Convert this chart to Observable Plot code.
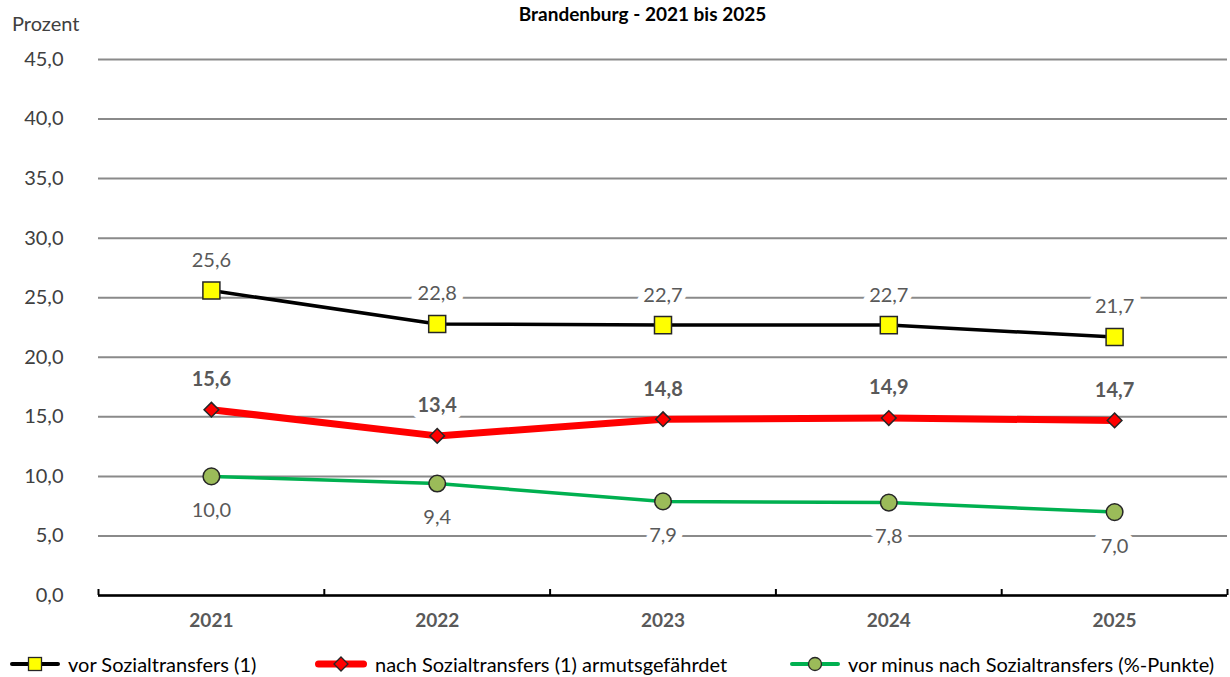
<!DOCTYPE html>
<html>
<head>
<meta charset="utf-8">
<script src="https://cdn.jsdelivr.net/npm/d3@7"></script>
<script src="https://cdn.jsdelivr.net/npm/@observablehq/plot@0.6"></script>
<style>
  html, body { margin: 0; padding: 0; background: #fff; }
  #wrap { position: relative; width: 1230px; height: 677px; font-family: Lato, "Noto Sans", sans-serif; overflow: hidden; }
  #chart { position: absolute; left: 0; top: 0; }
  .title { position: absolute; left: 0; width: 1285px; top: 3px; text-align: center; font-weight: bold; font-size: 19px; color: #000; line-height: 22px; }
  .ylab { position: absolute; left: 12px; top: 11px; font-size: 20px; color: #404040; line-height: 24px; }
  .leg { position: absolute; top: 652px; height: 24px; display: flex; align-items: center; font-size: 20px; color: #000; white-space: nowrap; }
  .leg svg { flex: none; }
  .leg span { margin-left: 8px; }
</style>
</head>
<body>
<div id="wrap">
  <div id="chart"></div>
  <div class="title" id="title"></div>
  <div class="ylab" id="ylab"></div>
  <div id="legend"></div>
</div>
<script>
const titleText = "Brandenburg - 2021 bis 2025";
const yAxisLabel = "Prozent";
const years = [2021, 2022, 2023, 2024, 2025];
const vorValues = [25.6, 22.8, 22.7, 22.7, 21.7];
const nachValues = [15.6, 13.4, 14.8, 14.9, 14.7];
const diffValues = [10.0, 9.4, 7.9, 7.8, 7.0];
const yTicks = [0, 5, 10, 15, 20, 25, 30, 35, 40, 45];
const seriesNames = [
  "vor Sozialtransfers (1)",
  "nach Sozialtransfers (1) armutsgefährdet",
  "vor minus nach Sozialtransfers (%-Punkte)"
];

const fmt = d => d.toFixed(1).replace(".", ",");
const toRows = vals => years.map((year, i) => ({year, value: vals[i]}));
const vor = toRows(vorValues);
const nach = toRows(nachValues);
const diff = toRows(diffValues);
const boundaries = years.map(y => y - 0.5).concat([years[years.length - 1] + 0.5]);

document.getElementById("title").textContent = titleText;
document.getElementById("ylab").textContent = yAxisLabel;

const labelColor = "#595959";

const chart = Plot.plot({
  width: 1230,
  height: 645,
  marginTop: 59,
  marginBottom: 50,
  marginLeft: 98,
  marginRight: 3,
  style: {fontFamily: "Lato, 'Noto Sans', sans-serif", fontSize: "20px", background: "white"},
  x: {domain: [boundaries[0], boundaries[boundaries.length - 1]]},
  y: {domain: [0, 45]},
  marks: [
    Plot.gridY(yTicks, {stroke: "#8a8a8a", strokeOpacity: 1, strokeWidth: 2}),
    Plot.axisY(yTicks, {tickSize: 0, tickPadding: 35, tickFormat: fmt, fill: "#404040", fontSize: 20, label: null}),
    Plot.ruleY([0], {stroke: "#000", strokeWidth: 2.5}),
    Plot.axisX(boundaries, {tickSize: -6, tickFormat: () => "", stroke: "#000", strokeWidth: 2, label: null}),
    Plot.axisX(years, {tickSize: 0, tickPadding: 18, tickFormat: d => String(d), fill: labelColor, fontWeight: "bold", fontSize: 19, label: null}),
    // data labels with white halo
    Plot.text(vor, {x: "year", y: "value", text: d => fmt(d.value), dy: -30, fill: labelColor, stroke: "white", strokeWidth: 14, fontSize: 20}),
    Plot.text(nach, {x: "year", y: "value", text: d => fmt(d.value), dy: -30, fill: labelColor, stroke: "white", strokeWidth: 14, fontSize: 20, fontWeight: "bold"}),
    Plot.text(diff, {x: "year", y: "value", text: d => fmt(d.value), dy: 34, fill: labelColor, stroke: "white", strokeWidth: 14, fontSize: 20}),
    // lines
    Plot.line(diff, {x: "year", y: "value", stroke: "#00B050", strokeWidth: 3.5}),
    Plot.line(nach, {x: "year", y: "value", stroke: "#FF0000", strokeWidth: 7}),
    Plot.line(vor, {x: "year", y: "value", stroke: "#000", strokeWidth: 3.5}),
    // markers
    Plot.dot(diff, {x: "year", y: "value", symbol: "circle", r: 8.3, fill: "#9BBB59", stroke: "#262626", strokeWidth: 1.5}),
    Plot.dot(nach, {x: "year", y: "value", symbol: "diamond2", r: 6.6, fill: "#FF0000", stroke: "#262626", strokeWidth: 1.5}),
    Plot.dot(vor, {x: "year", y: "value", symbol: "square", r: 9.6, fill: "#FFFF00", stroke: "#262626", strokeWidth: 1.5})
  ]
});
document.getElementById("chart").appendChild(chart);

// legend
const legendDefs = [
  {left: 10, w: 50, name: seriesNames[0], line: "#000", lw: 4, marker: c => `<rect x="${c - 6.5}" y="5.5" width="13" height="13" fill="#FFFF00" stroke="#262626" stroke-width="1.3"/>`},
  {left: 315, w: 52, name: seriesNames[1], line: "#FF0000", lw: 7, marker: c => `<path d="M${c} 5 L${c + 7} 12 L${c} 19 L${c - 7} 12 Z" fill="#FF0000" stroke="#262626" stroke-width="1.3"/>`},
  {left: 790, w: 50, name: seriesNames[2], line: "#00B050", lw: 4, marker: c => `<circle cx="${c}" cy="12" r="6.5" fill="#9BBB59" stroke="#262626" stroke-width="1.3"/>`}
];
const legend = document.getElementById("legend");
legendDefs.forEach(d => {
  const div = document.createElement("div");
  div.className = "leg";
  div.style.left = d.left + "px";
  const c = d.w / 2;
  div.innerHTML = `<svg width="${d.w}" height="24" viewBox="0 0 ${d.w} 24"><line x1="${d.lw / 2}" y1="12" x2="${d.w - d.lw / 2}" y2="12" stroke="${d.line}" stroke-width="${d.lw}" stroke-linecap="round"/>${d.marker(c)}</svg><span></span>`;
  div.querySelector("span").textContent = d.name;
  legend.appendChild(div);
});
</script>
</body>
</html>
